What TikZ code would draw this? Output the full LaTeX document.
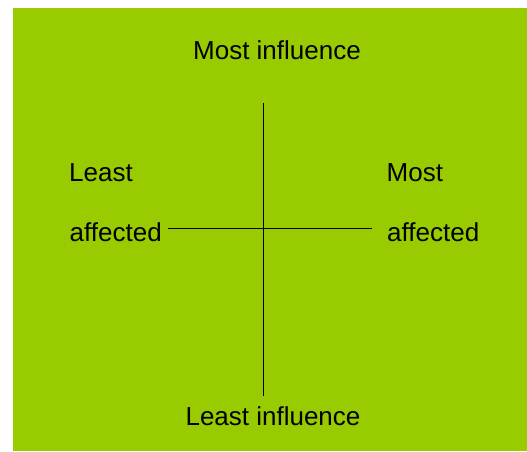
\documentclass[tikz,border=0pt]{standalone}
\usepackage{fontspec}
\setmainfont{Liberation Sans}
\usepackage{tikz}
\usetikzlibrary{positioning}

\definecolor{grid}{HTML}{99CC00}

\begin{document}
\begin{tikzpicture}[x=1pt,y=-1pt]
				\tikzstyle{Label}	= [inner sep=0pt, font=\fontsize{26}{31}\selectfont]
				\tikzstyle{Axis}	= [line width=0.9pt, black]

				\useasboundingbox (0,0) rectangle (527,451);
				\fill [white] (0,0) rectangle (527,451);
				\fill [grid] (13,8) rectangle (527,451);

				\node (mostinf) at (277, 59) [Label][anchor=base] {Most influence};
				\node (leastinf) at (273, 425.3) [Label][anchor=base] {Least influence};

				\node (leastl) at (69, 181.7) [Label][anchor=base west] {Least};
				\node (leasta) at (69.5, 241.7) [Label][anchor=base west] {affected};
				\node (mostl) at (386.5, 181.7) [Label][anchor=base west] {Most};
				\node (mosta) at (387, 241.7) [Label][anchor=base west] {affected};

				\coordinate (top) at (263, 103);
				\coordinate (bottom) at (263, 395.7);
				\coordinate (left) at (168.3, 228.3);
				\coordinate (right) at (371.7, 228.3);

				\draw [-] (top) to (bottom) [Axis];
				\draw [-] (left) to (right) [Axis];
			\end{tikzpicture}
\end{document}
